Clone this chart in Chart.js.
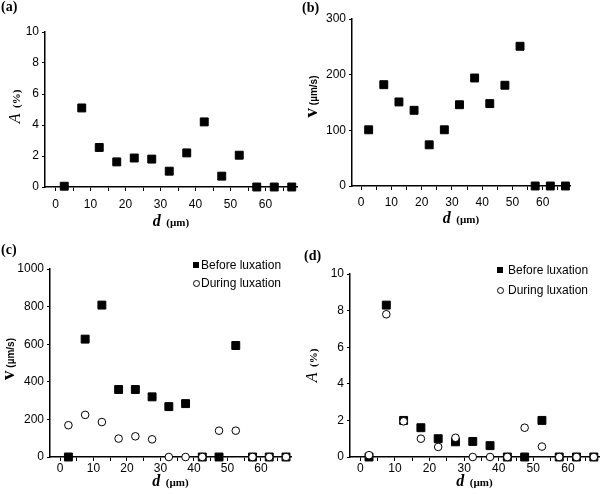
<!DOCTYPE html>
<html>
<head>
<meta charset="utf-8">
<script src="https://cdn.jsdelivr.net/npm/chart.js@4"></script>
<style>
  body { margin: 0; background: #fff; }
  #page { position: relative; width: 600px; height: 494px; background: #fff; overflow: hidden; }
  .panel { position: absolute; width: 300px; height: 247px; }
  .tag { position: absolute; font: bold 14px "Liberation Serif", serif; line-height: 14px; color: #000; }
  .leg { position: absolute; font: 12px "Liberation Sans", Arial, sans-serif; line-height: 14px; color: #000; white-space: nowrap; }
  .sq { position: absolute; width: 6px; height: 6px; background: #000; }
  .ci { position: absolute; width: 5px; height: 5px; border: 1px solid #000; border-radius: 50%; background: #fff; }
</style>
</head>
<body>
<div id="page">
  <div class="panel" style="left:0;top:0"><canvas id="chartA" width="300" height="247"></canvas></div>
  <div class="panel" style="left:300px;top:0"><canvas id="chartB" width="300" height="247"></canvas></div>
  <div class="panel" style="left:0;top:247px"><canvas id="chartC" width="300" height="247"></canvas></div>
  <div class="panel" style="left:300px;top:247px"><canvas id="chartD" width="300" height="247"></canvas></div>

  <div class="tag" style="left:1px;top:0px">(a)</div>
  <div class="tag" style="left:302px;top:1px">(b)</div>
  <div class="tag" style="left:1px;top:243px">(c)</div>
  <div class="tag" style="left:304px;top:249px">(d)</div>

  <!-- legends of (c) and (d) -->
  <div class="sq" style="left:193px;top:262px"></div>
  <div class="leg" style="left:201px;top:258px">Before luxation</div>
  <div class="ci" style="left:193px;top:280px"></div>
  <div class="leg" style="left:201px;top:276px">During luxation</div>

  <div class="sq" style="left:497px;top:267px"></div>
  <div class="leg" style="left:508px;top:263px">Before luxation</div>
  <div class="ci" style="left:497px;top:287px"></div>
  <div class="leg" style="left:508px;top:283px">During luxation</div>
</div>

<script>
// bin centres (µm)
const dBins = [2.5, 7.5, 12.5, 17.5, 22.5, 27.5, 32.5, 37.5, 42.5, 47.5, 52.5, 57.5, 62.5, 67.5];

// (a) area A (%)
const areaA = [0.05, 5.1, 2.55, 1.62, 1.87, 1.8, 1.02, 2.2, 4.2, 0.7, 2.05, 0, 0, 0];
// (b) velocity v (µm/s)
const velB = [101, 182, 151, 136, 74, 101, 146, 194, 148, 181, 251, 0, 0, 0];
// (c) velocity before / during luxation
const velBefore = [0, 627, 808, 359, 359, 320, 268, 284, 0, 0, 593, 0, 0, 0];
const velDuring = [169, 224, 186, 98, 110, 94, 0, 0, 0, 140, 140, 0, 0, 0];
// (d) area before / during luxation
const areaBefore = [0, 8.3, 2.0, 1.6, 1.0, 0.83, 0.85, 0.62, 0, 0, 2.0, 0, 0, 0];
const areaDuring = [0.1, 7.8, 1.95, 1.0, 0.55, 1.05, 0, 0, 0, 1.6, 0.57, 0, 0, 0];

// x tick marks every 5, labels only on these
const xTickMarks = [0, 5, 10, 15, 20, 25, 30, 35, 40, 45, 50, 55, 60, 65];
const xTickLabels = [0, 10, 20, 30, 40, 50, 60];

const SANS = '"Liberation Sans", Arial, sans-serif';
const SERIF = '"Liberation Serif", "Times New Roman", serif';

function toPoints(values) {
  return dBins.map((d, i) => ({ x: d, y: values[i] }));
}

// titles made of several fonts, e.g. italic "d" + small "(µm)"
const mixedTitles = {
  id: "mixedTitles",
  afterDraw(chart, args, opts) {
    const ctx = chart.ctx;
    const area = chart.chartArea;
    const drawParts = (parts) => {
      let total = 0;
      parts.forEach((p) => {
        ctx.font = p[1];
        total += ctx.measureText(p[0]).width;
      });
      let x = -total / 2;
      parts.forEach((p) => {
        ctx.font = p[1];
        ctx.fillText(p[0], x, 0);
        x += ctx.measureText(p[0]).width;
      });
    };
    ctx.save();
    ctx.fillStyle = "#000";
    ctx.textBaseline = "alphabetic";
    ctx.textAlign = "left";
    if (opts.x) {
      ctx.save();
      ctx.translate((area.left + area.right) / 2 + (opts.xShift || 0), opts.xBase);
      drawParts(opts.x);
      ctx.restore();
    }
    if (opts.y) {
      ctx.save();
      ctx.translate(opts.yBase, (area.top + area.bottom) / 2 + (opts.yShift || 0));
      ctx.rotate(-Math.PI / 2);
      drawParts(opts.y);
      ctx.restore();
    }
    ctx.restore();
  },
};

const xTitle = [
  ["d", "italic bold 16px " + SERIF],
  ["  (\u00b5m)", "bold 11px " + SERIF],
];
const aTitle = [
  ["A", "italic 16px " + SERIF],
  ["  (%)", "bold 11px " + SERIF],
];
const vTitle = [
  ["v", "bold 19px " + SERIF],
  [" (\u00b5m/s)", "bold 10px " + SANS],
];

function makeChart(id, box, yMax, yStep, datasets, titles) {
  const W = 300, H = 247;
  new Chart(document.getElementById(id), {
    type: "scatter",
    data: { datasets: datasets },
    plugins: [mixedTitles],
    options: {
      responsive: false,
      animation: false,
      devicePixelRatio: 1,
      layout: {
        autoPadding: false,
        padding: { left: 0, top: box.top, right: W - box.right, bottom: 0 },
      },
      plugins: {
        legend: { display: false },
        tooltip: { enabled: false },
        mixedTitles: titles,
      },
      scales: {
        x: {
          type: "linear",
          min: -3,
          max: 69,
          afterFit: (s) => { s.height = H - box.bottom; },
          afterBuildTicks: (s) => { s.ticks = xTickMarks.map((v) => ({ value: v })); },
          border: { display: true, color: "#000", width: 1.5 },
          grid: { display: true, drawOnChartArea: false, drawTicks: true, tickLength: 4, color: "#000", lineWidth: 1 },
          ticks: {
            autoSkip: false,
            maxRotation: 0,
            padding: box.xPad,
            color: "#000",
            font: { family: SANS, size: 12 },
            callback: (v) => (xTickLabels.includes(v) ? String(v) : ""),
          },
        },
        y: {
          type: "linear",
          min: 0,
          max: yMax,
          afterFit: (s) => { s.width = box.left; },
          border: { display: true, color: "#000", width: 1.5 },
          grid: { display: true, drawOnChartArea: false, drawTicks: true, tickLength: 3, color: "#000", lineWidth: 1 },
          ticks: {
            stepSize: yStep,
            padding: 3,
            color: "#000",
            font: { family: SANS, size: 12 },
            callback: (v) => String(v),
          },
        },
      },
    },
  });
}

function squares(values, order) {
  return {
    data: toPoints(values),
    pointStyle: "rect",
    pointRadius: 5.6,
    backgroundColor: "#000",
    borderColor: "#000",
    borderWidth: 1,
    showLine: false,
    clip: false,
    order: order,
  };
}

function circles(values, order) {
  return {
    data: toPoints(values),
    pointStyle: "circle",
    pointRadius: 3.8,
    backgroundColor: "#fff",
    borderColor: "#000",
    borderWidth: 1,
    showLine: false,
    clip: false,
    order: order,
  };
}

makeChart("chartA", { left: 45, top: 32, right: 297, bottom: 187, xPad: 6 }, 10, 2,
  [squares(areaA, 1)],
  { x: xTitle, xBase: 226, y: aTitle, yBase: 20, yShift: -3 });

makeChart("chartB", { left: 52, top: 19, right: 270, bottom: 186, xPad: 5 }, 300, 100,
  [squares(velB, 1)],
  { x: xTitle, xBase: 223, y: vTitle, yBase: 17, yShift: -6 });

makeChart("chartC", { left: 50, top: 22, right: 291, bottom: 210, xPad: 0 }, 1000, 200,
  [squares(velBefore, 2), circles(velDuring, 1)],
  { x: xTitle, xBase: 239, y: vTitle, yBase: 14, yShift: -4 });

makeChart("chartD", { left: 50, top: 27, right: 299, bottom: 210, xPad: 0 }, 10, 2,
  [squares(areaBefore, 2), circles(areaDuring, 1)],
  { x: xTitle, xBase: 239, y: aTitle, yBase: 17 });
</script>
</body>
</html>
